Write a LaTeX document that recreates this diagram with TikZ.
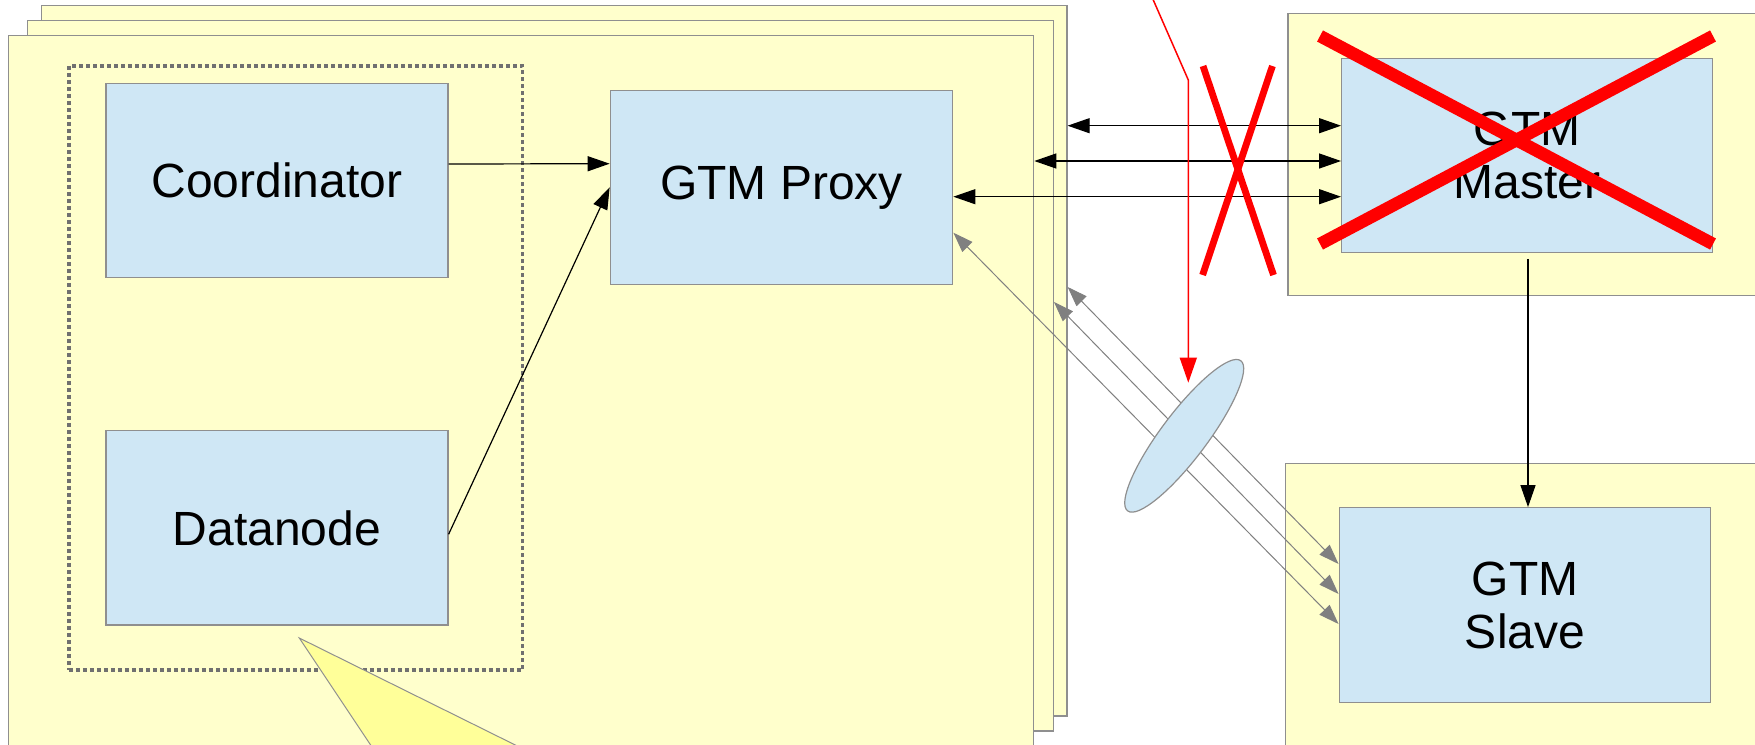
\documentclass[tikz,border=0pt]{standalone}
\usepackage{fontspec}
\setmainfont{Liberation Sans}
\usetikzlibrary{arrows.meta,calc,shapes.geometric}
\definecolor{lyellow}{HTML}{FFFFCC}
\definecolor{lblue}{HTML}{CFE7F5}
\definecolor{bord}{HTML}{8F8F8F}
\definecolor{arrgray}{HTML}{808080}
\definecolor{dotgray}{HTML}{707070}
\definecolor{calloutfill}{HTML}{FFFF99}
\definecolor{xred}{HTML}{FF0000}
\begin{document}
\begin{tikzpicture}[x=0.5pt,y=-0.5pt,
  panel/.style={draw=bord, fill=lyellow, line width=0.6pt, inner sep=0pt},
  box/.style={draw=bord, fill=lblue, line width=0.6pt, inner sep=0pt, align=center,
              font=\fontsize{24}{26.5}\selectfont},
  arr/.style={-{Triangle[length=11pt,width=7.5pt]}, line width=0.6pt, draw=black},
  dblarr/.style={{Triangle[length=11pt,width=7.5pt]}-{Triangle[length=11pt,width=7.5pt]}, line width=0.6pt, draw=black},
  grayarr/.style={{Triangle[length=10pt,width=7pt]}-{Triangle[length=10pt,width=7pt]}, line width=0.5pt, draw=arrgray},
  redarr/.style={-{Triangle[length=12.5pt,width=8.5pt]}, line width=0.75pt, draw=xred},
  cross/.style={draw=xred, line cap=butt},
  group/.style={draw=dotgray, line width=1.9pt, dash pattern=on 1.9pt off 1.6pt, inner sep=0pt}
]
\useasboundingbox (0,0) rectangle (1755,744);
\clip (0,0) rectangle (1755,744);

% stacked node panels
\node[panel, minimum width=512.85pt, minimum height=355.35pt] (back) at (554.15,360.65) {};
\node[panel, minimum width=512.85pt, minimum height=355.35pt] (middle) at (540.45,375.65) {};
\node[panel, minimum width=512.65pt, minimum height=355.35pt] (front) at (521.05,390.65) {};

% right panels
\node[panel, minimum width=256pt, minimum height=141pt] (mpanel) at (1544,154.3) {};
\node[panel, minimum width=257.15pt, minimum height=168.35pt] (spanel) at (1542.85,631.65) {};

% dotted group
\node[group, minimum width=226.8pt, minimum height=302.3pt] (grp) at (295.7,368) {};

% boxes
\node[box, minimum width=171pt, minimum height=97pt] (coord) at (277,180.3) {Coordinator};
\node[box, minimum width=171pt, minimum height=97.15pt] (data) at (277,527.9) {Datanode};
\node[box, minimum width=171.25pt, minimum height=97pt] (proxy) at (781.5,187.3) {GTM Proxy};
\node[box, minimum width=185.35pt, minimum height=97pt] (master) at (1527,155.3) {GTM\\Master};
\node[box, minimum width=185.85pt, minimum height=97.3pt] (slave) at (1525,605) {GTM\\Slave};

% callout
\path[draw=bord, fill=calloutfill, line width=0.5pt] (299.3,638) -- (407.3,800) -- (626.3,800) -- cycle;

% black arrows
\draw[arr] ([yshift=8.15pt]coord.east) -- ([yshift=11.8pt]proxy.west);
\draw[arr] ([yshift=-3.2pt]data.east) -- (proxy.west);
\draw[dblarr] ([yshift=14.8pt]master.west) coordinate (m1) -- (m1 -| back.east);
\draw[dblarr] ([yshift=-2.85pt]master.west) coordinate (m2) -- (m2 -| front.east);
\draw[dblarr] ([yshift=-20.7pt]master.west) coordinate (m3) -- (m3 -| proxy.east);
\draw[arr] ([xshift=0.5pt,yshift=-3pt]master.south) coordinate (ms) -- (ms |- slave.north);

% gray arrows
\draw[grayarr] ([yshift=-22.7pt]proxy.east) -- ([yshift=-9.5pt]slave.west);
\draw[grayarr] ([yshift=36.85pt]middle.east) -- ([yshift=5.5pt]slave.west);
\draw[grayarr] ([yshift=36.85pt]back.east) -- ([yshift=20.5pt]slave.west);

% ellipse
\node[ellipse, draw=bord, fill=lblue, line width=0.6pt, minimum width=94pt, minimum height=23pt,
      inner sep=0pt, rotate=53] (ell) at (1184.2,435.8) {};

% red arrow
\coordinate (rtop) at (1148.9,-10);
\coordinate (rbend) at (1188.3,80);
\coordinate (rtip) at (1188.3,382.7);
\draw[redarr] (rtop) -- (rbend) -- (rtip);

% small red cross
\draw[cross, line width=3.4pt] (1203,66) -- (1273.5,275);
\draw[cross, line width=3.4pt] (1272.4,66) -- (1202.6,275);

% big red cross
\draw[cross, line width=6.3pt] (1320,36) -- (1713,244);
\draw[cross, line width=6.3pt] (1713,36) -- (1320,244);
\end{tikzpicture}
\end{document}
